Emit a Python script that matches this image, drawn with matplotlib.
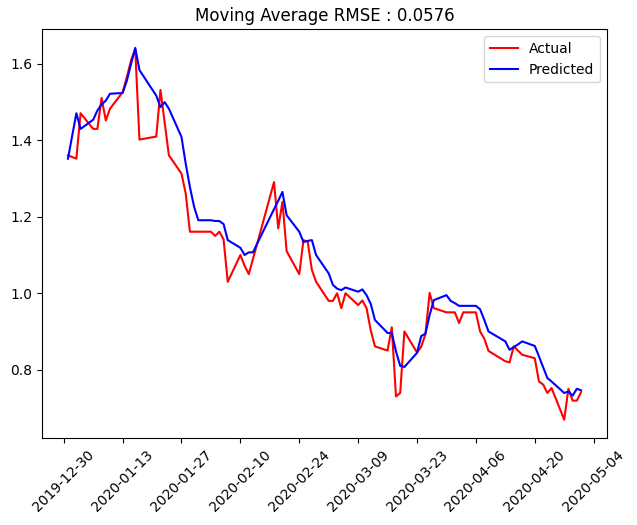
import numpy as np
import pandas as pd
import matplotlib
matplotlib.use('Agg')
import matplotlib.pyplot as plt
import matplotlib.dates as mdates

# US trading days, 2019-12-31 .. 2020-05-01
holidays = ['2020-01-01', '2020-01-20', '2020-02-17', '2020-04-10']
dates = pd.bdate_range('2019-12-31', '2020-05-01')
dates = dates[~dates.isin(pd.to_datetime(holidays))]

actual = [1.361, 1.352, 1.471, 1.430, 1.430, 1.511, 1.452, 1.483, 1.526, 1.565,
          1.609, 1.639, 1.402, 1.410, 1.532, 1.446, 1.361, 1.313, 1.261, 1.161,
          1.161, 1.161, 1.161, 1.150, 1.161, 1.141, 1.030, 1.100, 1.072, 1.050,
          1.090, 1.130, 1.291, 1.170, 1.239, 1.110, 1.050, 1.139, 1.135, 1.061,
          1.030, 0.980, 0.980, 1.000, 0.961, 1.000, 0.969, 0.981, 0.961, 0.903,
          0.861, 0.850, 0.911, 0.730, 0.739, 0.900, 0.845, 0.860, 0.893, 1.001,
          0.961, 0.950, 0.950, 0.950, 0.922, 0.950, 0.950, 0.900, 0.881, 0.849,
          0.822, 0.819, 0.861, 0.850, 0.839, 0.830, 0.769, 0.761, 0.739, 0.752,
          0.669, 0.750, 0.719, 0.719, 0.741]

predicted = [1.352, 1.471, 1.430, 1.454, 1.478, 1.494, 1.504, 1.522, 1.524, 1.556,
             1.600, 1.642, 1.584, 1.517, 1.487, 1.500, 1.483, 1.409, 1.339, 1.278,
             1.226, 1.191, 1.191, 1.189, 1.189, 1.181, 1.139, 1.119, 1.100, 1.107,
             1.107, 1.130, 1.220, 1.242, 1.265, 1.204, 1.161, 1.134, 1.137, 1.139,
             1.100, 1.052, 1.022, 1.012, 1.008, 1.015, 1.004, 1.010, 0.995, 0.972,
             0.930, 0.896, 0.896, 0.848, 0.810, 0.807, 0.844, 0.888, 0.894, 0.943,
             0.982, 0.995, 0.980, 0.974, 0.967, 0.967, 0.967, 0.958, 0.930, 0.900,
             0.874, 0.852, 0.859, 0.866, 0.874, 0.862, 0.835, 0.806, 0.778, 0.769,
             0.739, 0.743, 0.732, 0.750, 0.746]

rmse = 0.0576
tick_dates = pd.date_range('2019-12-30', '2020-05-04', freq='14D')

fig, ax = plt.subplots(figsize=(6.37, 5.25), dpi=100)
ax.plot(dates, actual, color='red', label='Actual')
ax.plot(dates, predicted, color='blue', label='Predicted')
ax.set_title('Moving Average RMSE : %.4f' % rmse)
ax.set_xticks(tick_dates)
ax.xaxis.set_major_formatter(mdates.DateFormatter('%Y-%m-%d'))
plt.xticks(rotation=45)
ax.legend(loc='upper right')
fig.subplots_adjust(left=0.0664, right=0.9524, top=0.9442, bottom=0.1651)
fig.savefig('out.png')
